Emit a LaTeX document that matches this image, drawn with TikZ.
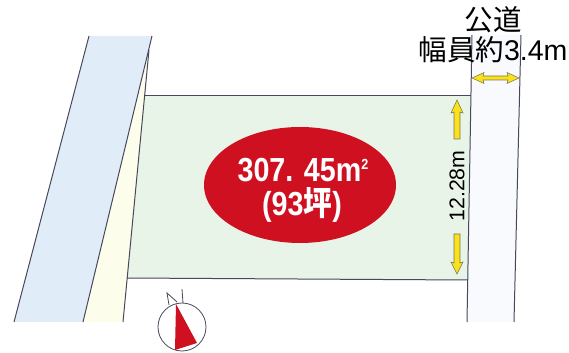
\documentclass[tikz,border=0pt]{standalone}
\usepackage{fontspec}
\setmainfont{Liberation Sans}
\newfontfamily\cjkfont{Noto Sans CJK JP}
\definecolor{roadblue}{RGB}{224,236,247}
\definecolor{stripcream}{RGB}{253,253,236}
\definecolor{lotgreen}{RGB}{232,244,231}
\definecolor{roadpale}{RGB}{248,250,254}
\definecolor{edgegrey}{RGB}{72,72,92}
\definecolor{ovalred}{RGB}{207,16,32}
\definecolor{arrowyellow}{RGB}{250,225,30}
\tikzset{
  every picture/.style={line width=0.75pt},
  edgeline/.style={draw=edgegrey, line width=0.75pt},
  sizearrow/.style={draw=edgegrey!70!arrowyellow, line width=0.4pt, fill=arrowyellow},
  roadtext/.style={text=black, inner sep=0pt, font=\fontsize{21.4}{24}\selectfont},
  oxtext/.style={text=white, inner sep=0pt, xscale=0.86, yscale=-1, transform shape, font=\fontsize{25}{28}\selectfont\bfseries}
}

\begin{document}
\begin{tikzpicture}[x=0.75pt,y=0.75pt,yscale=-1,xscale=1]
\useasboundingbox (0,0) rectangle (569,353);

%Shape: Cream strip
\fill [stripcream] (83,322) -- (152,37) -- (149,50) -- (145,96) -- (123,322) -- cycle ;
%Shape: Blue road
\fill [roadblue] (89,36) -- (152,36) -- (83,322) -- (14,322) -- cycle ;
%Shape: Green lot
\fill [lotgreen] (145,96) -- (471,96) -- (468,280) -- (127,278) -- cycle ;
%Shape: Pale road
\fill [roadpale] (472,35) -- (521,35) -- (514,322) -- (467,322) -- cycle ;

%Straight Lines
\draw [edgeline] (89,36) -- (14,322) ;
\draw [edgeline] (152,36) -- (83,322) ;
\draw [edgeline] (149,50) -- (123,322) ;
\draw [edgeline] (145,96) -- (471,96) ;
\draw [edgeline] (127,278) -- (468,280) ;
\draw [edgeline] (472,35) -- (467,322) ;
\draw [edgeline] (521,35) -- (514,322) ;

%Shape: Ellipse
\fill [ovalred] (300,185) ellipse (96 and 58) ;

%Shape: Double arrow
\draw [sizearrow] (472,78) -- (484,72.5) -- (483,76) -- (508,76) -- (507,72.5) -- (519,78) -- (507,83.5) -- (508,80) -- (483,80) -- (484,83.5) -- cycle ;
%Shape: Up arrow
\draw [sizearrow] (457,100) -- (463,113) -- (460,112) -- (460,139) -- (454,139) -- (454,112) -- (451,113) -- cycle ;
%Shape: Down arrow
\draw [sizearrow] (457,274) -- (451,262) -- (454,263) -- (454,234) -- (460,234) -- (460,263) -- (463,262) -- cycle ;

%Shape: Compass
\draw [edgegrey, line width=0.6pt] (182,327) circle (24) ;
\fill [ovalred] (176,304) -- (197,343) -- (175,350) -- cycle ;
\draw [edgegrey, line width=0.6pt] (169,305) -- (167,293) -- (177,302) ;
\draw [edgegrey, line width=0.6pt] (182,289) -- (183,303) ;

% Text Node
\node [roadtext] (roadname) at (493,20) {\cjkfont 公道};
% Text Node
\node [roadtext] (roadwidth) at (493,50) {{\cjkfont 幅員約}3.4m};
% Text Node
\node [text=black, inner sep=0pt, rotate=90, font=\fontsize{16}{18}\selectfont] (lotdepth) at (457,186) {12.28m};
% Text Node
\node [oxtext] (areametric) at (303,170) {307. 45m\raisebox{9pt}{\fontsize{11}{12}\selectfont 2}};
% Text Node
\node [oxtext] (areatsubo) at (302,205) {(93{\cjkfont\bfseries 坪})};

\end{tikzpicture}
\end{document}
